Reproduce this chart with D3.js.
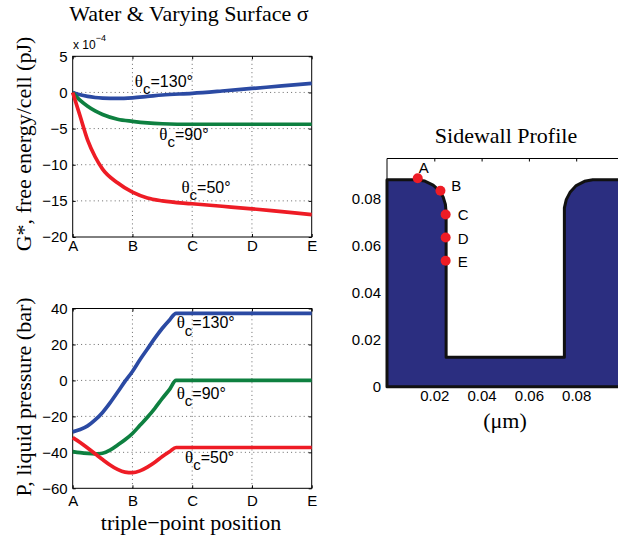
<!DOCTYPE html>
<html><head><meta charset="utf-8">
<script src="https://cdn.jsdelivr.net/npm/d3@7"></script>
<style>body{margin:0;background:#fff}svg{display:block}</style>
</head><body><svg id="c" width="618" height="540"></svg>
<script>
// ---------- DATA ----------
const positions = ["A", "B", "C", "D", "E"];
const angles = [130, 90, 50];

// free energy G* (x 1e-4 pJ) vs triple-point position (0=A ... 4=E)
const gX     = [0, 0.125, 0.25, 0.375, 0.5, 0.75, 1, 1.25, 1.5, 2, 2.5, 3, 3.5, 4];
const gBlue  = [0, -0.33, -0.55, -0.7, -0.78, -0.83, -0.74, -0.55, -0.35, -0.12, 0.2, 0.55, 0.9, 1.25];
const gGreen = [0, -1.1, -1.9, -2.55, -3.05, -3.7, -4.0, -4.22, -4.33, -4.4, -4.4, -4.4, -4.4, -4.4];
const gRed   = [0, -3.3, -6.6, -8.9, -10.6, -12.5, -13.8, -14.6, -15.0, -15.4, -15.75, -16.1, -16.5, -16.9];

// liquid pressure P (bar)
const pX     = [0, 0.125, 0.25, 0.375, 0.5, 0.625, 0.75, 0.875, 1, 1.125, 1.25, 1.375, 1.5, 1.625, 1.73, 2, 3, 4];
const pBlue  = [-28.6, -27.3, -25.3, -22, -17.8, -12.5, -6.6, -0.5, 5, 11.5, 17.5, 23.5, 29, 33.8, 37.3, 37.3, 37.3, 37.3];
const pGreen = [-39.6, -40.2, -40.6, -40.8, -40.5, -38.8, -36, -33, -29.5, -25, -20.5, -15.5, -10, -4.8, 0, 0, 0, 0];
const pRed   = [-31.8, -34.5, -37.6, -40.8, -44, -47, -49.5, -51, -51.3, -50.3, -48.2, -45.5, -42.3, -39.5, -37.3, -37.3, -37.3, -37.3];

const gTicks = [-20, -15, -10, -5, 0, 5];
const pTicks = [-60, -40, -20, 0, 20, 40];

// sidewall profile (um)
const profileX = [0, 0.012, 0.016, 0.0195, 0.022, 0.0238, 0.0247, 0.025, 0.025, 0.075, 0.075, 0.0758, 0.0775, 0.080, 0.0835, 0.087, 0.1, 0.1, 0];
const profileY = [0.088, 0.088, 0.0874, 0.0857, 0.0835, 0.0805, 0.0775, 0.074, 0.0125, 0.0125, 0.076, 0.0795, 0.0828, 0.0855, 0.0873, 0.088, 0.088, 0, 0];
const markerNames = ["A", "B", "C", "D", "E"];
const markerX = [0.013, 0.0226, 0.0248, 0.0248, 0.0248];
const markerY = [0.0886, 0.0833, 0.0732, 0.0634, 0.0535];
const profTicksX = [0.02, 0.04, 0.06, 0.08];
const profTicksY = [0, 0.02, 0.04, 0.06, 0.08];

// annotation anchors (data coords)
const gLabelX = [1.04, 1.45, 1.82], gLabelY = [0.8, -6.55, -13.9];
const pLabelX = [1.74, 1.74, 1.88], pLabelY = [28.9, -10.2, -45.9];

// ---------- STYLE ----------
const colors = ["#2b4aa3", "#0e8040", "#ee1c25"];
const SANS = "'Liberation Sans', Arial, sans-serif";
const SERIF = "'Liberation Serif', 'Times New Roman', serif";
const SERIF_SIZE = 22;
const markerOffsets = [[6, -5.7, "middle"], [10.7, 0, "start"], [12, 6, "start"], [12, 6, "start"], [12, 6, "start"]];

const svg = d3.select("#c");
svg.append("rect").attr("width", 618).attr("height", 540).attr("fill", "#fff");

const fmt = d => d < 0 ? "\u2212" + Math.abs(d) : String(d);

function panel(yDomain, yRange, ticks, xs, series, lx, ly, xPad) {
  const x = d3.scaleLinear().domain([0, 4]).range([72.7, 311.7]);
  const y = d3.scaleLinear().domain(yDomain).range(yRange);
  const g = svg.append("g");
  const [x0, x1] = x.range(), [y0, y1] = y.range();
  // grid
  const grid = g.append("g").attr("stroke", "#444").attr("stroke-width", 0.8).attr("stroke-dasharray", "1,3.2");
  grid.selectAll(".v").data([1, 2, 3]).join("line").attr("x1", d => x(d)).attr("x2", d => x(d)).attr("y1", y0).attr("y2", y1);
  grid.selectAll(".h").data(ticks.slice(1, -1)).join("line").attr("x1", x0).attr("x2", x1).attr("y1", d => y(d)).attr("y2", d => y(d));
  // axes
  g.append("g").attr("transform", `translate(0,${y0})`)
    .call(d3.axisBottom(x).tickValues([0, 1, 2, 3, 4]).tickFormat(i => positions[i]).tickSizeInner(-3).tickSizeOuter(0).tickPadding(xPad));
  g.append("g").attr("transform", `translate(${x0},0)`)
    .call(d3.axisLeft(y).tickValues(ticks).tickFormat(fmt).tickSizeInner(-3).tickSizeOuter(0).tickPadding(5));
  g.append("g").attr("transform", `translate(0,${y1})`).call(d3.axisTop(x).tickValues([0, 1, 2, 3, 4]).tickFormat("").tickSizeInner(-3).tickSizeOuter(0));
  g.append("g").attr("transform", `translate(${x1},0)`).call(d3.axisRight(y).tickValues(ticks).tickFormat("").tickSizeInner(-3).tickSizeOuter(0));
  g.selectAll(".domain").remove();
  g.selectAll(".tick text").attr("font-family", SANS).attr("font-size", 15).attr("fill", "#000");
  g.selectAll(".tick line").attr("stroke", "#000");
  g.append("rect").attr("x", x0).attr("y", y1).attr("width", x1 - x0).attr("height", y0 - y1)
    .attr("fill", "none").attr("stroke", "#000").attr("stroke-width", 1);
  // lines
  const line = d3.line().x((d, i) => x(xs[i])).y(d => y(d)).curve(d3.curveMonotoneX);
  series.forEach((s, k) => {
    g.append("path").attr("d", line(s)).attr("fill", "none").attr("stroke", colors[k])
      .attr("stroke-width", 3.7).attr("stroke-linejoin", "round").attr("stroke-linecap", "butt");
  });
  // labels
  angles.forEach((a, k) => {
    const t = g.append("text").attr("x", x(lx[k])).attr("y", y(ly[k])).attr("font-family", SANS).attr("font-size", 16).attr("fill", "#000");
    t.append("tspan").attr("font-family", SERIF).attr("font-size", 17).text("\u03b8");
    t.append("tspan").attr("dy", 7.5).attr("font-size", 15).text("c");
    t.append("tspan").attr("dy", -7.5).text("=" + a + "\u00b0");
  });
  return g;
}

panel([-20, 5], [237, 56.3], gTicks, gX, [gBlue, gGreen, gRed], gLabelX, gLabelY, 3);
panel([-60, 40], [488.3, 308.5], pTicks, pX, [pBlue, pGreen, pRed], pLabelX, pLabelY, 7);

// titles & labels (left)
svg.append("text").attr("x", 189).attr("y", 21).attr("text-anchor", "middle").attr("font-family", SERIF).attr("font-size", SERIF_SIZE).text("Water & Varying Surface \u03c3");
const ex = svg.append("text").attr("x", 73).attr("y", 48.5).attr("font-family", SANS).attr("font-size", 12).text("x 10");
ex.append("tspan").attr("dy", -8).attr("font-size", 9).text("\u22124");
svg.append("text").attr("transform", "translate(31,144) rotate(-90)").attr("text-anchor", "middle").attr("font-family", SERIF).attr("font-size", SERIF_SIZE).text("G*, free energy/cell (pJ)");
svg.append("text").attr("transform", "translate(31,397) rotate(-90)").attr("text-anchor", "middle").attr("font-family", SERIF).attr("font-size", SERIF_SIZE).text("P, liquid pressure (bar)");
svg.append("text").attr("x", 191).attr("y", 529.5).attr("text-anchor", "middle").attr("font-family", SERIF).attr("font-size", SERIF_SIZE).text("triple\u2212point position");

// ---------- right: sidewall profile ----------
{
  const x = d3.scaleLinear().domain([0, 0.1]).range([387, 623.5]);
  const y = d3.scaleLinear().domain([0, 0.097]).range([386.7, 158.5]);
  const g = svg.append("g");
  const [x0, x1] = x.range(), [y0, y1] = y.range();
  g.append("g").attr("transform", `translate(0,${y0})`)
    .call(d3.axisBottom(x).tickValues(profTicksX).tickFormat(d3.format(".2f")).tickSizeInner(-3).tickSizeOuter(0).tickPadding(4));
  g.append("g").attr("transform", `translate(${x0},0)`)
    .call(d3.axisLeft(y).tickValues(profTicksY).tickFormat(d => d === 0 ? "0" : d3.format(".2f")(d)).tickSizeInner(-3).tickSizeOuter(0).tickPadding(6));
  g.append("g").attr("transform", `translate(0,${y1})`).call(d3.axisTop(x).tickValues(profTicksX).tickFormat("").tickSizeInner(-3).tickSizeOuter(0));
  g.selectAll(".domain").remove();
  g.selectAll(".tick text").attr("font-family", SANS).attr("font-size", 15).attr("fill", "#000");
  g.selectAll(".tick line").attr("stroke", "#000");
  g.append("line").attr("x1", x0).attr("x2", x1).attr("y1", y1).attr("y2", y1).attr("stroke", "#000");
  g.append("line").attr("x1", x0).attr("x2", x0).attr("y1", y1).attr("y2", y0).attr("stroke", "#000");
  const line = d3.line().x((d, i) => x(profileX[i])).y(d => y(d));
  g.append("path").attr("d", line(profileY) + "Z").attr("fill", "#2b2e80").attr("stroke", "#111").attr("stroke-width", 3).attr("stroke-linejoin", "round");
  g.selectAll("circle.m").data(markerNames).join("circle").attr("cx", (d, i) => x(markerX[i])).attr("cy", (d, i) => y(markerY[i])).attr("r", 5).attr("fill", "#ee1c25");
  g.selectAll("text.m").data(markerNames).join("text")
    .attr("x", (d, i) => x(markerX[i]) + markerOffsets[i][0]).attr("y", (d, i) => y(markerY[i]) + markerOffsets[i][1])
    .attr("text-anchor", (d, i) => markerOffsets[i][2]).attr("font-family", SANS).attr("font-size", 15).text(d => d);
  svg.append("text").attr("x", 506).attr("y", 143).attr("text-anchor", "middle").attr("font-family", SERIF).attr("font-size", SERIF_SIZE).text("Sidewall Profile");
  svg.append("text").attr("x", 505).attr("y", 428).attr("text-anchor", "middle").attr("font-family", SERIF).attr("font-size", SERIF_SIZE).text("(\u03bcm)");
}
</script></body></html>
